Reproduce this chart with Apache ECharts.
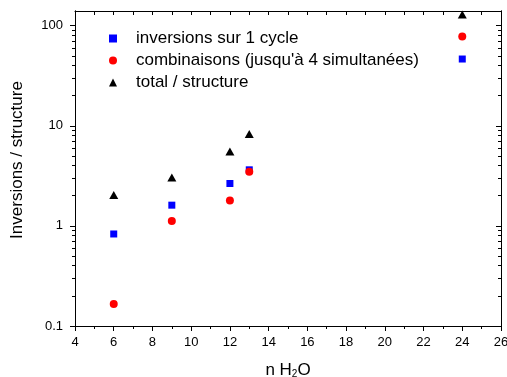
<!DOCTYPE html>
<html>
<head>
<meta charset="utf-8">
<script src="https://cdn.jsdelivr.net/npm/echarts@6/dist/echarts.min.js"></script>
<style>html,body{margin:0;padding:0;background:#fff}#c{width:507px;height:377px}</style>
</head>
<body>
<div id="c"></div>
<script>
const nH2O = [6, 9, 12, 13, 24];
const inversions = [0.83, 1.61, 2.65, 3.63, 46.4];
const combinaisons = [0.166, 1.12, 1.79, 3.47, 78];
const total = [2.03, 3.04, 5.53, 8.26, 129];
const seriesNames = ['inversions sur 1 cycle', "combinaisons (jusqu'à 4 simultanées)", 'total / structure'];
const xRange = [4, 26];
const yRange = [0.1, 140];
const yMajor = [0.1, 1, 10, 100];
const yMinor = [0.2,0.3,0.4,0.5,0.6,0.7,0.8,0.9,2,3,4,5,6,7,8,9,20,30,40,50,60,70,80,90];

const FONT = 'Liberation Sans, Arial, sans-serif';
const pair = (xs, ys) => xs.map((x, i) => [x, ys[i]]);
const line = {show: true, onZero: false, lineStyle: {color: '#000', width: 1}};

function yAx(pos, ticks, len, inside, showLabel, extra) {
  return Object.assign({
    type: 'log', logBase: 10, min: yRange[0], max: yRange[1], position: pos,
    axisLine: line,
    axisTick: {show: true, inside: inside, length: len, customValues: ticks, lineStyle: {color: '#000', width: 1}},
    axisLabel: showLabel
      ? {show: true, customValues: ticks, margin: 12, color: '#000', fontSize: 13, fontFamily: FONT, formatter: v => String(v)}
      : {show: false},
    splitLine: {show: false}
  }, extra || {});
}

const chart = echarts.init(document.getElementById('c'), null, {renderer: 'canvas'});
chart.setOption({
  animation: false,
  backgroundColor: '#fff',
  grid: {left: 75, right: 6, top: 11, bottom: 51, outerBoundsMode: 'none'},
  legend: {
    orient: 'vertical', left: 104, top: 25, padding: 5, itemWidth: 8, itemHeight: 8, itemGap: 5,
    textStyle: {fontSize: 17, fontFamily: FONT, color: '#000', lineHeight: 16, padding: [0, 0, 0, 14]},
    data: [
      {name: seriesNames[0], icon: 'rect'},
      {name: seriesNames[1], icon: 'circle'},
      {name: seriesNames[2], icon: 'triangle'}
    ]
  },
  xAxis: [
    {type: 'value', min: xRange[0], max: xRange[1], interval: 2, position: 'bottom',
     name: 'n H{sub|2}O', nameLocation: 'middle', nameGap: 35,
     nameTextStyle: {fontSize: 17, fontFamily: FONT, color: '#000',
       rich: {sub: {fontSize: 10, fontFamily: FONT, color: '#000', verticalAlign: 'bottom', padding: [8, 0, 0, 0]}}},
     axisLine: line,
     axisTick: {show: true, inside: false, length: 5, lineStyle: {color: '#000'}},
     minorTick: {show: true, splitNumber: 2, length: 3, lineStyle: {color: '#000'}},
     axisLabel: {margin: 10, color: '#000', fontSize: 13, fontFamily: FONT},
     splitLine: {show: false}},
    {type: 'value', min: xRange[0], max: xRange[1], interval: 2, position: 'top',
     axisLine: line,
     axisTick: {show: true, inside: true, length: 4, lineStyle: {color: '#000'}},
     minorTick: {show: true, splitNumber: 2, length: 4, lineStyle: {color: '#000'}},
     axisLabel: {show: false}, splitLine: {show: false}}
  ],
  yAxis: [
    yAx('left', yMajor, 5, false, true, {
      name: 'Inversions / structure', nameLocation: 'middle', nameGap: 49,
      nameTextStyle: {fontSize: 17, fontFamily: FONT, color: '#000', padding: [0, 0, 0, 17]}
    }),
    yAx('left', yMinor, 3, false, false),
    yAx('right', yMajor, 5, true, false),
    yAx('right', yMinor, 3, true, false)
  ],
  series: [
    {name: seriesNames[0], type: 'scatter', symbol: 'rect', symbolSize: 7, itemStyle: {color: '#0000ff', opacity: 1}, data: pair(nH2O, inversions)},
    {name: seriesNames[1], type: 'scatter', symbol: 'circle', symbolSize: 8, itemStyle: {color: '#ff0000', opacity: 1}, data: pair(nH2O, combinaisons)},
    {name: seriesNames[2], type: 'scatter', symbol: 'triangle', symbolSize: [9, 8], itemStyle: {color: '#000', opacity: 1}, data: pair(nH2O, total)}
  ]
});
</script>
</body>
</html>
